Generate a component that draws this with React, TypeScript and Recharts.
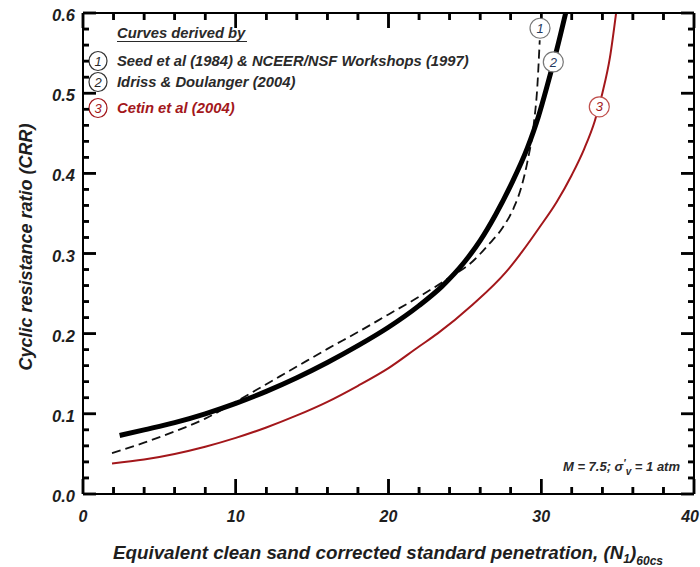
import React from 'react';
import { LineChart, Line, XAxis, YAxis, ReferenceDot, ReferenceLine, Customized } from 'recharts';

// Curve 1 (solid, thick): Seed et al (1984) & NCEER/NSF Workshops (1997)
const seedN = [2.4, 4, 6, 8, 10, 12, 14, 16, 18, 20, 22, 23.5, 25, 26, 27, 28, 29.1, 29.8, 30.4, 31, 31.6];
const seedCRR = [0.073, 0.08, 0.089, 0.1, 0.113, 0.128, 0.145, 0.164, 0.185, 0.208, 0.235, 0.259, 0.29, 0.316, 0.348, 0.385, 0.432, 0.47, 0.51, 0.553, 0.6];

// Curve 2 (dashed): Idriss & Boulanger (2004)
const idrissN = [1.9, 4, 6, 8, 10, 12, 14, 16, 18, 20, 22, 24, 25.5, 26.5, 27.5, 28.2, 28.7, 29.1, 29.5, 29.75, 29.9];
const idrissCRR = [0.051, 0.064, 0.078, 0.094, 0.115, 0.137, 0.159, 0.181, 0.202, 0.224, 0.246, 0.27, 0.29, 0.31, 0.333, 0.357, 0.383, 0.415, 0.46, 0.51, 0.566];

// Curve 3 (red): Cetin et al (2004)
const cetinN = [1.9, 4, 6, 8, 10, 12, 14, 16, 18, 20, 22, 23.2, 25.5, 27.7, 28.7, 29.9, 31, 32, 32.8, 33.5, 34, 34.5, 34.9];
const cetinCRR = [0.038, 0.043, 0.05, 0.059, 0.07, 0.083, 0.098, 0.115, 0.135, 0.157, 0.184, 0.2, 0.236, 0.277, 0.301, 0.333, 0.364, 0.398, 0.43, 0.465, 0.5, 0.545, 0.6];

const xTicks = [0, 2, 4, 6, 8, 10, 12, 14, 16, 18, 20, 22, 24, 26, 28, 30, 32, 34, 36, 38, 40];
const xMajor = [0, 10, 20, 30, 40];
const yTicks = [0, 0.02, 0.04, 0.06, 0.08, 0.1, 0.12, 0.14, 0.16, 0.18, 0.2, 0.22, 0.24, 0.26, 0.28, 0.3, 0.32, 0.34, 0.36, 0.38, 0.4, 0.42, 0.44, 0.46, 0.48, 0.5, 0.52, 0.54, 0.56, 0.58, 0.6];
const yMajor = [0, 0.1, 0.2, 0.3, 0.4, 0.5, 0.6];
const yMajorLabels = ['0.0', '0.1', '0.2', '0.3', '0.4', '0.5', '0.6'];
const X_DOMAIN: [number, number] = [0, 40];
const Y_DOMAIN: [number, number] = [0, 0.6];

const curveLabels = ['1', '2', '3'];
const curveLabelN = [29.92, 30.79, 33.8];
const curveLabelCRR = [0.581, 0.539, 0.483];

const legendTitle = 'Curves derived by';
const legendNames = ['Seed et al (1984) & NCEER/NSF Workshops (1997)', 'Idriss & Doulanger (2004)', 'Cetin et al (2004)'];

const toRows = (ns: number[], cs: number[]) => ns.map((n, i) => ({ n, crr: cs[i] }));
const seedData = toRows(seedN, seedCRR);
const idrissData = toRows(idrissN, idrissCRR);
const cetinData = toRows(cetinN, cetinCRR);

const FONT = '"Liberation Sans", Arial, sans-serif';
const RED = '#a3171b';
const TXT = '#1e1e1e';

const MARGIN = { top: 12, right: 5, bottom: 0, left: 0 };
const CHART_W = 700;
const CHART_H = 567;
const Y_AXIS_W = 83;
const X_AXIS_H = 73;

// inward tick lengths in data units of the other axis (~15/7 px and ~13/6 px)
const X_MAJOR_LEN = 0.0187;
const X_MINOR_LEN = 0.0087;
const Y_MAJOR_LEN = 0.85;
const Y_MINOR_LEN = 0.39;
const TICK_W = 2.5;

const isMajorX = (v: number) => xMajor.indexOf(v) >= 0;
const majorYIndex = (v: number) => yMajor.findIndex((m) => Math.abs(m - v) < 1e-9);

const BottomTick = (p: any) => {
  const { x, y, payload } = p;
  const last = payload.value === 40;
  return (
    <text x={last ? 699 : x} y={y + 28} textAnchor={last ? 'end' : 'middle'} fontFamily={FONT} fontWeight="bold" fontStyle="italic" fontSize={16} fill={TXT}>
      {payload.value}
    </text>
  );
};

const LeftTick = (p: any) => {
  const { x, y, payload } = p;
  const mi = majorYIndex(payload.value);
  return (
    <text x={x - 8} y={y + 8} textAnchor="end" fontFamily={FONT} fontWeight="bold" fontStyle="italic" fontSize={16.5} fill={TXT}>
      {mi >= 0 ? yMajorLabels[mi] : ''}
    </text>
  );
};

const plotArea = {
  x: MARGIN.left + Y_AXIS_W,
  y: MARGIN.top + 1,
  width: CHART_W - MARGIN.left - MARGIN.right - Y_AXIS_W - 1,
  height: CHART_H - MARGIN.top - 1 - MARGIN.bottom - X_AXIS_H,
};

// inward tick marks on all four sides of the plot frame
const FrameTicks = () => {
  const area = plotArea;
  const sx = (v: number) => area.x + ((v - X_DOMAIN[0]) / (X_DOMAIN[1] - X_DOMAIN[0])) * area.width;
  const sy = (v: number) => area.y + area.height - ((v - Y_DOMAIN[0]) / (Y_DOMAIN[1] - Y_DOMAIN[0])) * area.height;
  const bottom = area.y + area.height;
  const top = area.y;
  const left = area.x;
  const right = area.x + area.width;
  const parts: React.ReactNode[] = [];
  xTicks.forEach((v) => {
    const len = isMajorX(v) ? 15 : 7;
    const px = sx(v);
    parts.push(<line key={`xb${v}`} x1={px} y1={bottom} x2={px} y2={bottom - len} stroke="#000" strokeWidth={TICK_W} />);
    parts.push(<line key={`xt${v}`} x1={px} y1={top} x2={px} y2={top + len} stroke="#000" strokeWidth={TICK_W} />);
  });
  yTicks.forEach((v) => {
    const len = majorYIndex(v) >= 0 ? 13 : 6;
    const py = sy(v);
    parts.push(<line key={`yl${v}`} x1={left} y1={py} x2={left + len} y2={py} stroke="#000" strokeWidth={TICK_W} />);
    parts.push(<line key={`yr${v}`} x1={right} y1={py} x2={right - len} y2={py} stroke="#000" strokeWidth={TICK_W} />);
  });
  return <g className="frame-ticks">{parts}</g>;
};

const Annotations = () => {
  const rowY = [61, 82, 108];
  return (
    <g fontFamily={FONT} fontWeight="bold" fontStyle="italic">
      <text x={117} y={38} fontSize={14.8} fill="#2a2a2a">{legendTitle}</text>
      <line x1={117} y1={41.5} x2={247} y2={41.5} stroke="#2a2a2a" strokeWidth={1} />
      {legendNames.map((name, i) => {
        const col = i === 2 ? RED : '#2a2a2a';
        return (
          <g key={name}>
            <ellipse cx={98} cy={rowY[i]} rx={9} ry={9.5} fill="#fff" stroke={i === 2 ? RED : '#333'} strokeWidth={1.2} />
            <text x={98} y={rowY[i] + 4.5} textAnchor="middle" fontSize={13} fontWeight="normal" fill={col}>{curveLabels[i]}</text>
            <text x={117} y={rowY[i] + 5} fontSize={14.8} fill={col}>{name}</text>
          </g>
        );
      })}
      <text x={680} y={471} textAnchor="end" fontSize={13} fill="#2a2a2a">
        M = 7.5; σ<tspan dy={-4} fontSize={10}>′</tspan><tspan dy={8} fontSize={10}>v</tspan><tspan dy={-4}> = 1 atm</tspan>
      </text>
      <text x={388} y={559} textAnchor="middle" fontSize={18.8} fill={TXT}>
        Equivalent clean sand corrected standard penetration, (N<tspan dy={4} fontSize={12}>1</tspan><tspan dy={-4}>)</tspan><tspan dy={6} fontSize={12}>60cs</tspan>
      </text>
      <text x={31.5} y={247} transform="rotate(-90 31.5 247)" textAnchor="middle" fontSize={18} fill={TXT}>
        Cyclic resistance ratio (CRR)
      </text>
    </g>
  );
};

const AX = { stroke: '#000', strokeWidth: 2 };

export default function App() {
  const tickLines: React.ReactNode[] = [];
  xTicks.forEach((v) => {
    const len = isMajorX(v) ? X_MAJOR_LEN : X_MINOR_LEN;
    tickLines.push(
      <ReferenceLine key={`b${v}`} xAxisId="b" yAxisId="l" segment={[{ x: v, y: 0 }, { x: v, y: len }]} stroke="#000" strokeWidth={TICK_W} />,
      <ReferenceLine key={`t${v}`} xAxisId="b" yAxisId="l" segment={[{ x: v, y: 0.6 }, { x: v, y: 0.6 - len }]} stroke="#000" strokeWidth={TICK_W} />
    );
  });
  yTicks.forEach((v) => {
    const len = majorYIndex(v) >= 0 ? Y_MAJOR_LEN : Y_MINOR_LEN;
    tickLines.push(
      <ReferenceLine key={`l${v}`} xAxisId="b" yAxisId="l" segment={[{ x: 0, y: v }, { x: len, y: v }]} stroke="#000" strokeWidth={TICK_W} />,
      <ReferenceLine key={`r${v}`} xAxisId="b" yAxisId="l" segment={[{ x: 40, y: v }, { x: 40 - len, y: v }]} stroke="#000" strokeWidth={TICK_W} />
    );
  });

  return (
    <div style={{ position: 'absolute', left: 0, top: 0, width: CHART_W, height: CHART_H, background: '#fff' }}>
      <LineChart width={CHART_W} height={CHART_H} margin={MARGIN}>
        <XAxis xAxisId="b" type="number" dataKey="n" domain={X_DOMAIN} ticks={xMajor} interval={0}
          tickSize={0} tickMargin={0} tickLine={false} tick={<BottomTick />} height={X_AXIS_H} axisLine={AX} />
        <XAxis xAxisId="t" orientation="top" type="number" dataKey="n" domain={X_DOMAIN} ticks={xMajor} interval={0}
          tick={false} tickLine={false} height={1} axisLine={AX} />
        <YAxis yAxisId="l" type="number" domain={Y_DOMAIN} ticks={yMajor} interval={0}
          tickSize={0} tickMargin={0} tickLine={false} tick={<LeftTick />} width={Y_AXIS_W} axisLine={AX} />
        <YAxis yAxisId="r" orientation="right" type="number" domain={Y_DOMAIN} ticks={yMajor} interval={0}
          tick={false} tickLine={false} width={1} axisLine={AX} />
        <Line xAxisId="t" yAxisId="r" data={seedData} dataKey="crr" stroke="none" dot={false} isAnimationActive={false} />
        {tickLines}
        <Line xAxisId="b" yAxisId="l" data={cetinData} dataKey="crr" type="monotone" stroke={RED} strokeWidth={2} dot={false} isAnimationActive={false} />
        <Line xAxisId="b" yAxisId="l" data={idrissData} dataKey="crr" type="monotone" stroke="#111" strokeWidth={1.8} strokeDasharray="9 5" dot={false} isAnimationActive={false} />
        <Line xAxisId="b" yAxisId="l" data={seedData} dataKey="crr" type="monotone" stroke="#000" strokeWidth={5} dot={false} isAnimationActive={false} />
        {curveLabels.map((lab, i) => (
          <ReferenceDot key={lab} xAxisId="b" yAxisId="l" x={curveLabelN[i]} y={curveLabelCRR[i]} r={10}
            fill="#fff" stroke={i === 2 ? '#c0504d' : '#777'} strokeWidth={1.2}
            label={{ value: lab, position: 'center', fill: i === 2 ? RED : '#1f3a60', fontSize: 13, fontStyle: 'italic', fontFamily: FONT }} />
        ))}
        <Customized component={FrameTicks} />
        <Customized component={Annotations} />
      </LineChart>
    </div>
  );
}
